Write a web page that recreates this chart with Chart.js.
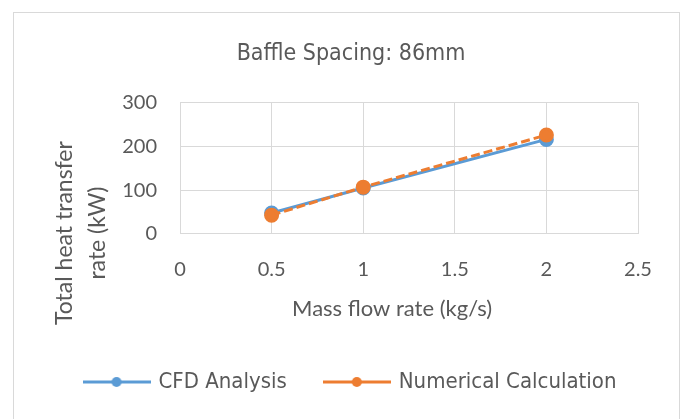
<!DOCTYPE html>
<html>
<head>
<meta charset="utf-8">
<script src="https://cdn.jsdelivr.net/npm/chart.js@4"></script>
<style>
  html, body { margin: 0; padding: 0; background: #fff; overflow: hidden; }
  #wrap { position: relative; width: 688px; height: 419px; overflow: hidden; }
  #frame { position: absolute; left: 13px; top: 12px; width: 665px; height: 440px;
           border: 1px solid #d9d9d9; pointer-events: none; }
  canvas { position: absolute; left: 0; top: 0; }
</style>
</head>
<body>
<div id="wrap">
  <canvas id="chart" width="688" height="450"></canvas>
  <div id="frame"></div>
</div>
<script>
// data
const massFlow = [0.5, 1, 2];
const cfdRate = [48, 105, 216];
const numericalRate = [43, 107, 226];
const seriesNames = ['CFD Analysis', 'Numerical Calculation'];
const seriesColors = ['#5b9bd5', '#ed7d31'];

const textGrey = '#595959';
const narrow = '"Liberation Sans Narrow", "DejaVu Sans Condensed", sans-serif';
const regular = 'Lato, "Open Sans", sans-serif';

// axis titles in the original sit off-centre; trailing spaces nudge them
const pad = (n) => ' '.repeat(n);

function toPoints(ys) {
  return massFlow.map((x, i) => ({ x: x, y: ys[i] }));
}

// little line-with-dot used as the legend marker
function legendIcon(color) {
  const c = document.createElement('canvas');
  c.width = 68; c.height = 14;
  const g = c.getContext('2d');
  g.strokeStyle = color;
  g.lineWidth = 3;
  g.beginPath(); g.moveTo(0, 7); g.lineTo(68, 7); g.stroke();
  g.fillStyle = color;
  g.beginPath(); g.arc(34, 7, 5, 0, Math.PI * 2); g.fill();
  return c;
}
const icons = seriesColors.map(legendIcon);

new Chart(document.getElementById('chart'), {
  type: 'line',
  data: {
    datasets: [
      {
        label: seriesNames[0],
        data: toPoints(cfdRate),
        borderColor: seriesColors[0],
        backgroundColor: seriesColors[0],
        borderWidth: 3,
        pointRadius: 6,
        pointHoverRadius: 6,
        order: 1
      },
      {
        label: seriesNames[1],
        data: toPoints(numericalRate),
        borderColor: seriesColors[1],
        backgroundColor: seriesColors[1],
        borderWidth: 3,
        borderDash: [9, 4],
        pointRadius: 6,
        pointHoverRadius: 6,
        order: 0
      }
    ]
  },
  options: {
    responsive: false,
    animation: false,
    layout: { padding: { left: 14, right: 0, top: 0, bottom: 47 } },
    plugins: {
      title: {
        display: true,
        text: 'Baffle Spacing: 86mm',
        color: textGrey,
        font: { family: narrow, size: 23, weight: 'normal' },
        padding: { top: 40, bottom: 35 }
      },
      legend: {
        position: 'bottom',
        labels: {
          color: textGrey,
          font: { family: narrow, size: 22 },
          usePointStyle: true,
          pointStyleWidth: 62,
          padding: 39,
          sort: (a, b) => a.datasetIndex - b.datasetIndex,
          generateLabels: (chart) => {
            const items = Chart.defaults.plugins.legend.labels.generateLabels(chart);
            items.forEach(it => { it.pointStyle = icons[it.datasetIndex]; });
            return items;
          }
        }
      },
      tooltip: { enabled: false }
    },
    scales: {
      x: {
        type: 'linear',
        min: 0,
        max: 2.5,
        ticks: {
          stepSize: 0.5, color: textGrey, font: { family: regular, size: 20 }, padding: 24,
          callback: (v) => String(v)
        },
        grid: { color: '#d9d9d9', drawTicks: false },
        border: { color: '#d9d9d9' },
        title: {
          display: true,
          text: 'Mass flow rate (kg/s)' + pad(6),
          color: textGrey,
          font: { family: regular, size: 22 },
          padding: { top: 0, bottom: 10 }
        },
        afterFit: (s) => { s.height = 98; }
      },
      y: {
        min: 0,
        max: 300,
        ticks: { stepSize: 100, color: textGrey, font: { family: regular, size: 20 }, padding: 23 },
        grid: { color: '#d9d9d9', drawTicks: false },
        border: { display: false },
        title: {
          display: true,
          text: ['Total heat transfer' + pad(22), 'rate (kW)' + pad(22)],
          color: textGrey,
          font: { family: regular, size: 23, lineHeight: 1.45 },
          padding: { top: 34, bottom: 0 }
        },
        afterFit: (s) => { s.width = 166; }
      },
      // empty axis on the right, only keeps the plot off the right edge
      yRight: {
        position: 'right',
        display: true,
        min: 0,
        max: 1,
        ticks: { display: false },
        grid: { display: false },
        border: { display: false },
        afterFit: (s) => { s.width = 50; }
      }
    }
  }
});
</script>
</body>
</html>
